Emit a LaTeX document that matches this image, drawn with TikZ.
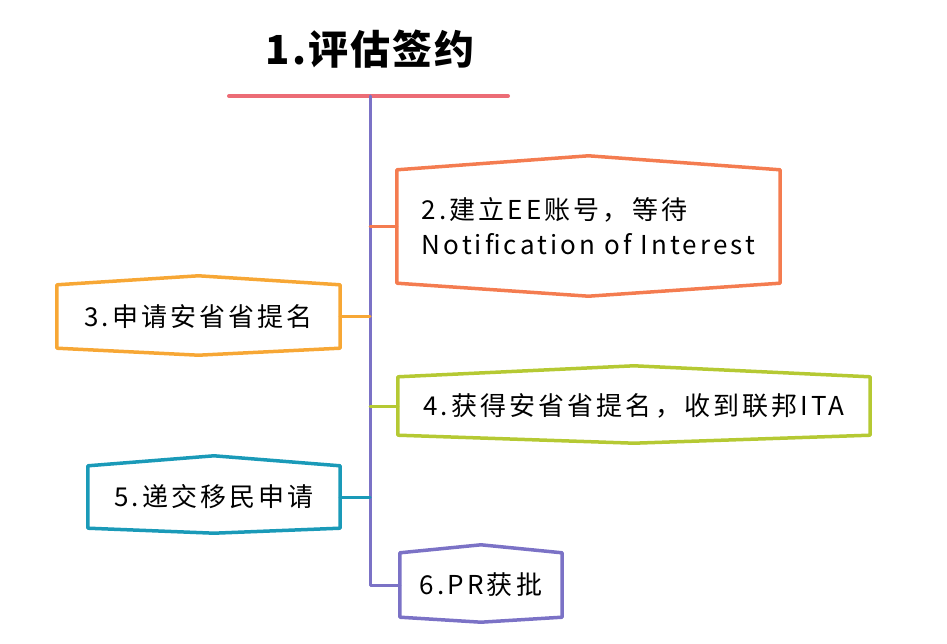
\documentclass[tikz,border=0pt]{standalone}
\usepackage{fontspec}
\setmainfont{Noto Sans CJK SC}
\newfontfamily\stepfont{Noto Sans CJK SC}[LetterSpace=12]
\newfontfamily\titlefont{Noto Sans CJK SC}[LetterSpace=5]
\usetikzlibrary{positioning}

\definecolor{stepred}{RGB}{236,108,118}
\definecolor{steporange}{RGB}{244,124,80}
\definecolor{stepyellow}{RGB}{247,167,53}
\definecolor{stepgreen}{RGB}{181,201,51}
\definecolor{stepteal}{RGB}{26,154,184}
\definecolor{steppurple}{RGB}{123,114,198}

% outline of a box: node, colour, rise of top, drop of bottom
\newcommand{\hexoutline}[4]{%
  \draw[line width=3.5pt,#2] (#1.north west) -- ([yshift=#3]#1.north) -- (#1.north east)
    -- (#1.south east) -- ([yshift=-#4]#1.south) -- (#1.south west) -- cycle;}

\begin{document}
\begin{tikzpicture}[x=1pt,y=-1pt,line join=round,line cap=round,
  stepbox/.style={inner sep=0pt,align=left,font=\stepfont\fontsize{26}{35}\selectfont},
  link/.style={line width=3pt}]
\useasboundingbox (0,0) rectangle (947,644);

% title
\node[font=\titlefont\fontsize{40}{44}\selectfont\bfseries] (title) at (370,49) {1.评估签约};
\coordinate (ul) at (229,96);
\coordinate (ur) at (508,96);
\draw[stepred,line width=4pt] (ul) -- (ur);

% trunk
\coordinate (top) at (370,96);

% steps
\node[stepbox,minimum width=383,minimum height=113] (s2) at (588.5,226.5) {2.建立EE账号，等待\\Notification of Interest};
\node[stepbox,minimum width=283,minimum height=63] (s3) at (198.5,316.5) {3.申请安省省提名};
\node[stepbox,minimum width=472,minimum height=58] (s4) at (634,406) {4.获得安省省提名，收到联邦ITA};
\node[stepbox,minimum width=252,minimum height=62] (s5) at (214,497) {5.递交移民申请};
\node[stepbox,minimum width=162,minimum height=64] (s6) at (481,585) {6.PR获批};

\hexoutline{s2}{steporange}{14pt}{13pt}
\hexoutline{s3}{stepyellow}{9pt}{7pt}
\hexoutline{s4}{stepgreen}{11pt}{8pt}
\hexoutline{s5}{stepteal}{10pt}{5pt}
\hexoutline{s6}{steppurple}{8pt}{5pt}

% connectors
\draw[link,steppurple] (top) |- (s6.west);
\draw[link,steporange] (s2.west) -- (s2.west -| top);
\draw[link,stepyellow] (s3.east) -- (s3.east -| top);
\draw[link,stepgreen] (s4.west) -- (s4.west -| top);
\draw[link,stepteal] (s5.east) -- (s5.east -| top);
\end{tikzpicture}
\end{document}
